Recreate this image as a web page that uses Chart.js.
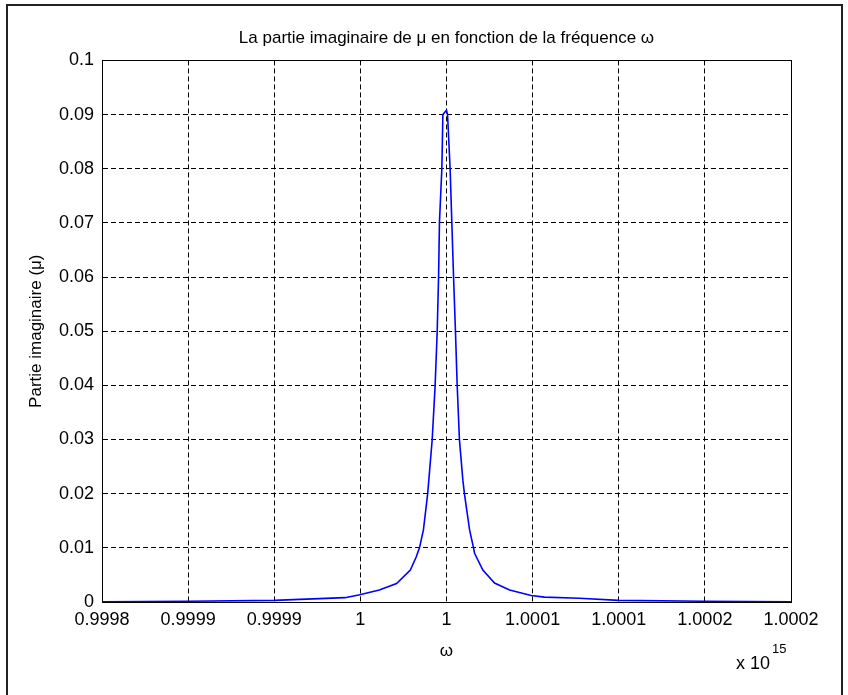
<!DOCTYPE html>
<html>
<head>
<meta charset="utf-8">
<title>Partie imaginaire de mu</title>
<script src="https://cdn.jsdelivr.net/npm/chart.js@4.4.0/dist/chart.umd.min.js"></script>
<style>
  html, body { margin: 0; padding: 0; background: #fff; }
  #wrap { position: relative; width: 848px; height: 695px; }
</style>
</head>
<body>
<div id="wrap"><canvas id="muChart" width="848" height="695"></canvas></div>
<script>
// omega in units of 1e15 rad/s
const omega = [
  0.99980, 0.999850, 0.999900, 0.999941, 0.999949, 0.999961, 0.999971,
  0.999979, 0.9999824, 0.9999843, 0.9999866, 0.9999882, 0.9999891,
  0.9999917, 0.9999934, 0.9999946, 0.9999954, 0.9999959, 0.9999973,
  0.9999979, 1.0000000, 1.0000006, 1.0000021, 1.0000031, 1.0000041,
  1.0000052, 1.0000062, 1.0000075, 1.0000095, 1.0000104, 1.0000134,
  1.0000157, 1.0000163, 1.0000211, 1.0000279, 1.0000366, 1.0000492,
  1.0000569, 1.0000772, 1.0000999, 1.0001498, 1.00020
];
const muImag = [
  0.00005, 0.00015, 0.0003, 0.0008, 0.0013, 0.0022, 0.0034,
  0.0059, 0.0083, 0.0100, 0.0133, 0.0176, 0.0201,
  0.0300, 0.0400, 0.0500, 0.0600, 0.0700, 0.0800,
  0.0900, 0.0908, 0.0900, 0.0800, 0.0700, 0.0600,
  0.0500, 0.0400, 0.0300, 0.0225, 0.0200, 0.0133,
  0.0100, 0.0090, 0.0059, 0.0035, 0.0022, 0.0012,
  0.0009, 0.0007, 0.0003, 0.00015, 0.00005
];

const xTickValues = [0.9998, 0.99985, 0.9999, 0.99995, 1.0, 1.00005, 1.0001, 1.00015, 1.0002];
const xTickLabels = ['0.9998', '0.9999', '0.9999', '1', '1', '1.0001', '1.0001', '1.0002', '1.0002'];
const yTickValues = [0, 0.01, 0.02, 0.03, 0.04, 0.05, 0.06, 0.07, 0.08, 0.09, 0.1];
const yTickLabels = ['0', '0.01', '0.02', '0.03', '0.04', '0.05', '0.06', '0.07', '0.08', '0.09', '0.1'];

const FONT = "'Liberation Sans', Arial, sans-serif";

// frame around the figure, box around the axes and the x10^15 exponent
const matlabBits = {
  id: 'matlabBits',
  afterDraw(chart) {
    const ctx = chart.ctx;
    const a = chart.chartArea;
    ctx.save();
    ctx.strokeStyle = '#222';
    ctx.lineWidth = 2;
    ctx.beginPath();
    ctx.moveTo(7, 695);
    ctx.lineTo(7, 5);
    ctx.lineTo(842, 5);
    ctx.lineTo(842, 695);
    ctx.stroke();

    ctx.strokeStyle = '#000';
    ctx.lineWidth = 1;
    ctx.strokeRect(Math.round(a.left) + 0.5, Math.round(a.top) + 0.5,
      Math.round(a.right - a.left), Math.round(a.bottom - a.top));

    ctx.fillStyle = '#000';
    ctx.textBaseline = 'alphabetic';
    ctx.textAlign = 'left';
    ctx.font = '18px ' + FONT;
    ctx.fillText('x 10', 736, 669);
    ctx.font = '13px ' + FONT;
    ctx.fillText('15', 772, 653);
    ctx.restore();
  }
};

const ctx = document.getElementById('muChart').getContext('2d');
new Chart(ctx, {
  type: 'line',
  data: {
    datasets: [{
      data: omega.map((w, i) => ({ x: w, y: muImag[i] })),
      borderColor: '#0000ff',
      borderWidth: 1.6,
      pointRadius: 0,
      tension: 0,
      fill: false
    }]
  },
  options: {
    responsive: false,
    animation: false,
    layout: { padding: { left: 0, right: 57, top: 0, bottom: 0 } },
    plugins: {
      legend: { display: false },
      tooltip: { enabled: false },
      title: {
        display: true,
        fullSize: false,
        text: 'La partie imaginaire de \u03bc en fonction de la fr\u00e9quence \u03c9',
        color: '#000',
        font: { family: FONT, size: 17, weight: 'normal' },
        padding: { top: 28, bottom: 12 }
      }
    },
    scales: {
      x: {
        type: 'linear',
        min: 0.9998,
        max: 1.0002,
        afterFit: (s) => { s.height = 93; },
        afterBuildTicks: (s) => { s.ticks = xTickValues.map(v => ({ value: v })); },
        ticks: {
          color: '#000',
          font: { family: FONT, size: 18 },
          padding: 7,
          maxRotation: 0,
          autoSkip: false,
          callback: (v, i) => xTickLabels[i]
        },
        grid: { color: '#000', lineWidth: 1, drawTicks: false },
        border: { display: true, color: '#000', width: 1, dash: [5, 3] },
        title: {
          display: true,
          text: '\u03c9',
          color: '#000',
          font: { family: FONT, size: 17 },
          padding: { top: 0, bottom: 33 }
        }
      },
      y: {
        type: 'linear',
        min: 0,
        max: 0.1,
        afterFit: (s) => { s.width = 102; },
        afterBuildTicks: (s) => { s.ticks = yTickValues.map(v => ({ value: v })); },
        ticks: {
          color: '#000',
          font: { family: FONT, size: 18 },
          padding: 8,
          autoSkip: false,
          callback: (v, i) => yTickLabels[i]
        },
        grid: { color: '#000', lineWidth: 1, drawTicks: false },
        border: { display: true, color: '#000', width: 1, dash: [5, 3] },
        title: {
          display: true,
          text: 'Partie imaginaire (\u03bc)',
          color: '#000',
          font: { family: FONT, size: 17 },
          padding: { top: 26, bottom: 0 }
        }
      }
    }
  },
  plugins: [matlabBits]
});
</script>
</body>
</html>
